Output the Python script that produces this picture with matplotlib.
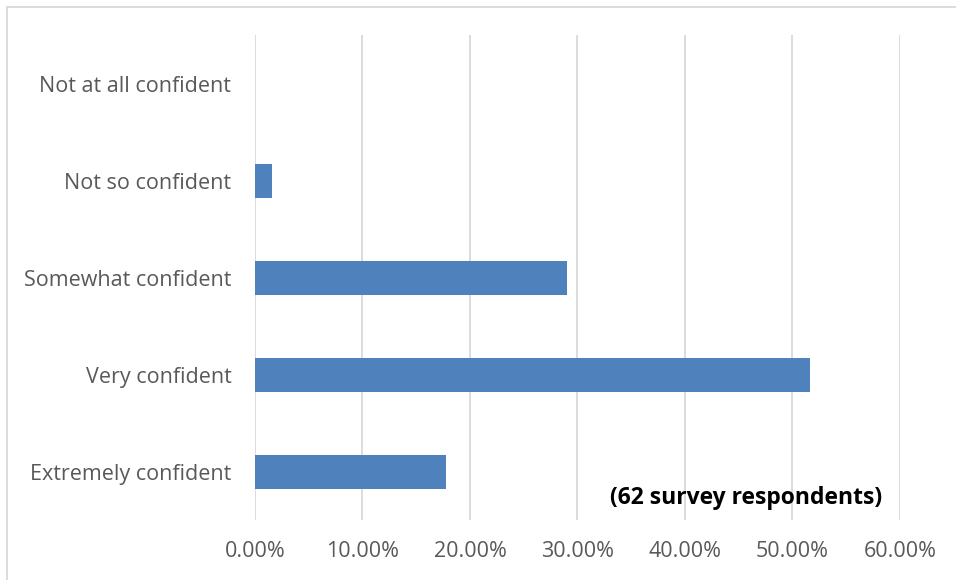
import matplotlib.pyplot as plt
from matplotlib.patches import Rectangle
from matplotlib.ticker import FuncFormatter

# Survey answers (share of respondents)
categories = ["Extremely confident", "Very confident", "Somewhat confident",
              "Not so confident", "Not at all confident"]
shares = [17.74, 51.61, 29.03, 1.61, 0.0]
x_ticks = [0, 10, 20, 30, 40, 50, 60]
note = "(62 survey respondents)"

plt.rcParams['font.family'] = ['Open Sans', 'DejaVu Sans']

fig = plt.figure(figsize=(9.56, 5.8), dpi=100)
ax = fig.add_axes([0.2667, 0.1026, 0.6747, 0.8362])

ypos = list(range(len(categories)))
ax.barh(ypos, shares, height=0.35, color="#4F81BD", zorder=3)

ax.set_xlim(0, 60)
ax.set_ylim(-0.5, len(categories) - 0.5)
ax.set_xticks(x_ticks)
ax.xaxis.set_major_formatter(FuncFormatter(lambda v, p: "%.2f%%" % v))
ax.set_yticks(ypos)
ax.set_yticklabels(categories)
ax.grid(axis="x", color="#D9D9D9", linewidth=1.3, zorder=0)
for s in ax.spines.values():
    s.set_visible(False)
ax.tick_params(axis="both", length=0, labelsize=15.5, labelcolor="#595959")
ax.tick_params(axis="x", pad=15)
ax.tick_params(axis="y", pad=17)

ax.text(0.972, 0.046, note, transform=ax.transAxes, ha="right", va="center",
        fontsize=16.5, fontweight="bold", color="black")

# light frame around the chart area
fig.patches.append(Rectangle((0.007, -0.01), 1.0, 0.998, transform=fig.transFigure,
                             fill=False, edgecolor="#D9D9D9", linewidth=1.3))

fig.savefig("out.png", dpi=100)
